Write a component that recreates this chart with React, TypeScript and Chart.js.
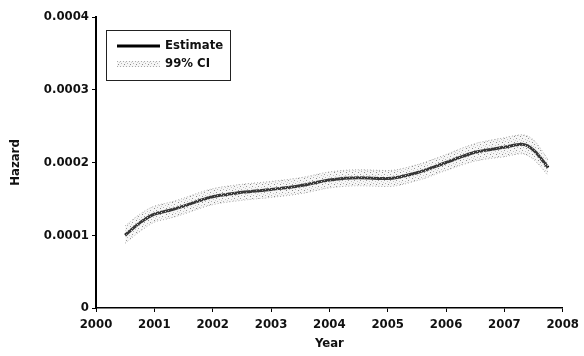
import React, { useEffect, useRef } from "react";
import { Chart, registerables } from "chart.js";

Chart.register(...registerables);

const years = [2000.5, 2000.75, 2001, 2001.25, 2001.5, 2001.75, 2002, 2002.5, 2003, 2003.5, 2004, 2004.5, 2005, 2005.5, 2006, 2006.5, 2007, 2007.3, 2007.5, 2007.75];
const estimate = [1.0, 1.17, 1.29, 1.34, 1.4, 1.47, 1.53, 1.59, 1.63, 1.68, 1.76, 1.79, 1.78, 1.86, 2.0, 2.14, 2.21, 2.25, 2.17, 1.93];
const upper = [1.13, 1.29, 1.4, 1.45, 1.51, 1.58, 1.64, 1.7, 1.74, 1.79, 1.87, 1.9, 1.89, 1.97, 2.11, 2.26, 2.34, 2.38, 2.31, 2.04];
const lower = [0.89, 1.05, 1.18, 1.23, 1.29, 1.36, 1.42, 1.48, 1.52, 1.57, 1.65, 1.68, 1.67, 1.75, 1.89, 2.02, 2.08, 2.12, 2.04, 1.82];
const scaleFactor = 1e-4;
const yTickLabels = ["0", "0.0001", "0.0002", "0.0003", "0.0004"];
const xTickLabels = ["2000", "2001", "2002", "2003", "2004", "2005", "2006", "2007", "2008"];
const legendLabels = ["Estimate", "99% CI"];

const FONT = '"DejaVu Sans Condensed", "Liberation Sans Narrow", "DejaVu Sans", sans-serif';

function makePattern(): CanvasPattern | string {
  const c = document.createElement("canvas");
  c.width = 6;
  c.height = 6;
  const g = c.getContext("2d");
  if (!g) return "rgba(150,150,150,0.25)";
  g.fillStyle = "rgba(220,220,220,0.25)";
  g.fillRect(0, 0, 6, 6);
  const dots: [number, number, string][] = [
    [0, 0, "#999"], [3, 1, "#c4c4c4"], [1, 3, "#b5b5b5"], [4, 4, "#8a8a8a"], [5, 2, "#d0d0d0"],
  ];
  dots.forEach(([x, y, col]) => {
    g.fillStyle = col;
    g.fillRect(x, y, 1, 1);
  });
  const p = g.createPattern(c, "repeat");
  return p || "rgba(150,150,150,0.25)";
}

export default function App() {
  const ref = useRef<HTMLCanvasElement>(null);
  useEffect(() => {
    if (!ref.current) return;
    const pattern = makePattern();
    const toPts = (arr: number[]) => arr.map((v, i) => ({ x: years[i], y: v * scaleFactor }));

    const legendPlugin = {
      id: "insideLegend",
      afterDatasetsDraw(chart: any) {
        const { ctx, chartArea } = chart;
        const x0 = chartArea.left + 10;
        const y0 = chartArea.top + 13;
        const w = 124;
        const h = 50;
        ctx.save();
        ctx.fillStyle = "#fff";
        ctx.fillRect(x0, y0, w, h);
        ctx.strokeStyle = "#222";
        ctx.lineWidth = 1;
        ctx.strokeRect(x0 + 0.5, y0 + 0.5, w, h);
        ctx.strokeStyle = "#000";
        ctx.lineWidth = 3;
        ctx.beginPath();
        ctx.moveTo(x0 + 11, y0 + 16);
        ctx.lineTo(x0 + 54, y0 + 16);
        ctx.stroke();
        ctx.fillStyle = pattern as any;
        ctx.fillRect(x0 + 11, y0 + 31, 43, 6);
        ctx.strokeStyle = "#aaa";
        ctx.lineWidth = 1;
        ctx.setLineDash([1, 2]);
        ctx.beginPath();
        ctx.moveTo(x0 + 11, y0 + 31.5);
        ctx.lineTo(x0 + 54, y0 + 31.5);
        ctx.moveTo(x0 + 11, y0 + 36.5);
        ctx.lineTo(x0 + 54, y0 + 36.5);
        ctx.stroke();
        ctx.setLineDash([]);
        ctx.fillStyle = "#111";
        ctx.font = "bold 13px " + FONT;
        ctx.textBaseline = "middle";
        ctx.textAlign = "left";
        ctx.fillText(legendLabels[0], x0 + 59, y0 + 16);
        ctx.fillText(legendLabels[1], x0 + 59, y0 + 34);
        ctx.restore();
      },
    };

    const chart = new Chart(ref.current, {
      type: "line",
      data: {
        datasets: [
          {
            label: "upper",
            data: toPts(upper),
            borderColor: "#aaa",
            borderWidth: 1,
            borderDash: [1, 2],
            backgroundColor: pattern as any,
            fill: "+1",
            pointRadius: 0,
            cubicInterpolationMode: "monotone",
          },
          {
            label: "lower",
            data: toPts(lower),
            borderColor: "#aaa",
            borderWidth: 1,
            borderDash: [1, 2],
            fill: false,
            pointRadius: 0,
            cubicInterpolationMode: "monotone",
          },
          {
            label: legendLabels[0],
            data: toPts(estimate),
            borderColor: "#000",
            borderWidth: 3,
            fill: false,
            pointRadius: 0,
            cubicInterpolationMode: "monotone",
          },
        ],
      },
      options: {
        animation: false,
        responsive: false,
        maintainAspectRatio: false,
        layout: { padding: { left: 8, right: 21, top: 17, bottom: 0 } },
        plugins: { legend: { display: false }, tooltip: { enabled: false } },
        scales: {
          x: {
            type: "linear",
            min: 2000,
            max: 2008,
            afterFit: (s: any) => { s.height = 48; },
            border: { display: true, color: "#000", width: 1.5 },
            grid: { display: true, drawOnChartArea: false, drawTicks: true, tickLength: 4, color: "#000" },
            ticks: {
              stepSize: 1,
              padding: 5,
              color: "#111",
              font: { family: FONT, size: 13, weight: "bold" },
              callback: (v: any) => xTickLabels[Math.round(Number(v) - 2000)] ?? "",
              maxRotation: 0,
            },
            title: {
              display: true,
              text: "Year",
              color: "#111",
              font: { family: FONT, size: 13, weight: "bold" },
              padding: { top: 0, bottom: 5 },
            },
          },
          y: {
            min: 0,
            max: 0.0004,
            afterFit: (s: any) => { s.width = 88; },
            border: { display: true, color: "#000", width: 2 },
            grid: { display: true, drawOnChartArea: false, drawTicks: true, tickLength: 4, color: "#000" },
            ticks: {
              stepSize: 0.0001,
              padding: 3,
              color: "#111",
              font: { family: FONT, size: 13, weight: "bold" },
              callback: (v: any) => yTickLabels[Math.round(Number(v) / scaleFactor)] ?? "",
            },
            title: {
              display: true,
              text: "Hazard",
              color: "#111",
              font: { family: FONT, size: 13, weight: "bold" },
              padding: { top: 0, bottom: 0 },
            },
          },
        },
      },
      plugins: [legendPlugin],
    });
    return () => chart.destroy();
  }, []);

  return (
    <div style={{ position: "fixed", left: 0, top: 0, width: 584, height: 356, background: "#fff" }}>
      <canvas ref={ref} width={584} height={356} style={{ width: 584, height: 356, display: "block" }} />
    </div>
  );
}
